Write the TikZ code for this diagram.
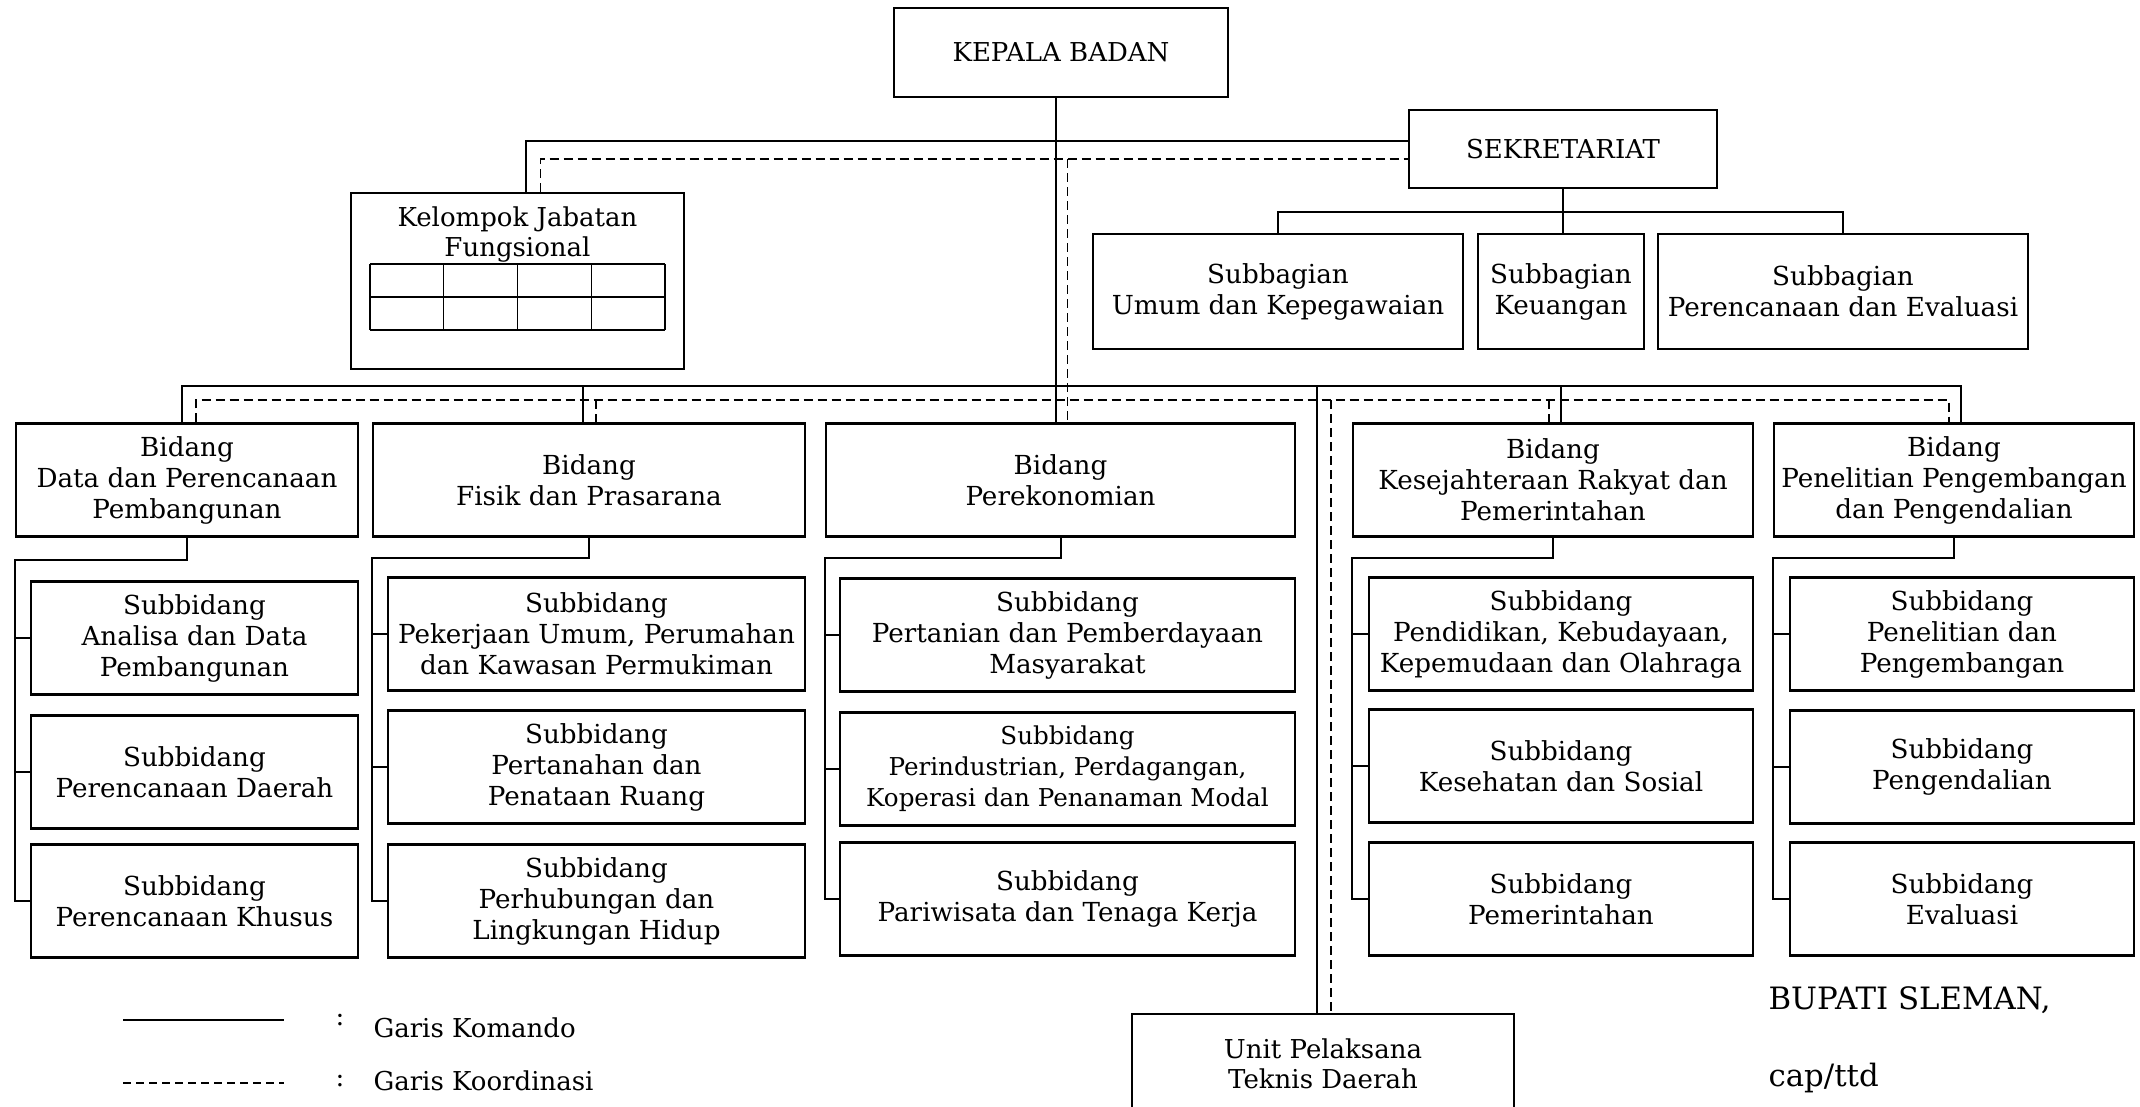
\documentclass[tikz,border=0pt]{standalone}
\usepackage{fontspec}
\setmainfont{DejaVu Serif}
\usetikzlibrary{positioning}

\begin{document}
\begin{tikzpicture}[
	x=1pt, y=-1pt,
	komando/.style={line width=2pt},
	koordinasi/.style={line width=1.6pt, dash pattern=on 9pt off 5pt},
	kotak/.style={draw, line width=2.4pt, align=center, inner sep=0pt},
	pimpinan/.style={kotak, font=\fontsize{26}{30}\selectfont},
	bidang/.style={kotak, minimum height=113pt, font=\fontsize{26.2}{31}\selectfont},
	ket/.style={anchor=west, font=\fontsize{26}{30}\selectfont},
	ttd/.style={anchor=west, font=\fontsize{30.8}{36}\selectfont}
	]
	
	\useasboundingbox (0,0) rectangle (2140,1106);
	\clip (0,0) rectangle (2140,1106);
	
	% ==================================================
	% Pimpinan, sekretariat, jabatan fungsional
	% ==================================================
	\node[pimpinan, minimum width=334pt, minimum height=89pt] (kepala) at (1061,52.5) {KEPALA BADAN};
	\node[pimpinan, minimum width=308pt, minimum height=78pt] (sekr) at (1563,149) {SEKRETARIAT};
	
	\node[kotak, minimum width=333pt, minimum height=176pt] (kjf) at (517.5,281) {};
	\node[pimpinan, draw=none] (kjfteks) at (517.5,235) {Kelompok Jabatan\\Fungsional};
	
	% tabel kosong dalam kotak fungsional
	\foreach \gy in {264,297,330} \draw[line width=1.2pt] (370,\gy) -- (665,\gy);
	\foreach \gx in {370,443.75,517.5,591.25,665} \draw[line width=1.2pt] (\gx,264) -- (\gx,330);
	
	\node[bidang, minimum width=370pt, minimum height=115pt] (sb1) at (1278,291.5) {Subbagian\\Umum dan Kepegawaian};
	\node[bidang, minimum width=166pt, minimum height=115pt] (sb2) at (1561,291.5) {Subbagian\\Keuangan};
	\node[bidang, minimum width=370pt, minimum height=115pt] (sb3) at (1843,291.5) {Subbagian\\Perencanaan dan Evaluasi};
	
	% ==================================================
	% Bidang
	% ==================================================
	\node[bidang, minimum width=342pt] (b1) at (187,480) {Bidang\\Data dan Perencanaan\\Pembangunan};
	\node[bidang, minimum width=432pt] (b2) at (589,480) {Bidang\\Fisik dan Prasarana};
	\node[bidang, minimum width=469pt] (b3) at (1060.5,480) {Bidang\\Perekonomian};
	\node[bidang, minimum width=400pt] (b4) at (1553,480) {Bidang\\Kesejahteraan Rakyat dan\\Pemerintahan};
	\node[bidang, minimum width=360pt] (b5) at (1954,480) {Bidang\\Penelitian Pengembangan\\dan Pengendalian};
	
	% ==================================================
	% Subbidang
	% ==================================================
	\node[bidang, minimum width=327pt] (s11) at (194.5,638) {Subbidang\\Analisa dan Data\\Pembangunan};
	\node[bidang, minimum width=327pt] (s12) at (194.5,772) {Subbidang\\Perencanaan Daerah};
	\node[bidang, minimum width=327pt] (s13) at (194.5,901) {Subbidang\\Perencanaan Khusus};
	
	\node[bidang, minimum width=417pt] (s21) at (596.5,634) {Subbidang\\Pekerjaan Umum, Perumahan\\dan Kawasan Permukiman};
	\node[bidang, minimum width=417pt] (s22) at (596.5,767) {Subbidang\\Pertanahan dan\\Penataan Ruang};
	\node[bidang, minimum width=417pt] (s23) at (596.5,901) {Subbidang\\Perhubungan dan\\Lingkungan Hidup};
	
	\node[bidang, minimum width=455pt] (s31) at (1067.5,635) {Subbidang\\Pertanian dan Pemberdayaan\\Masyarakat};
	\node[bidang, minimum width=455pt, font=\fontsize{24.6}{31}\selectfont] (s32) at (1067.5,769) {Subbidang\\Perindustrian, Perdagangan,\\Koperasi dan Penanaman Modal};
	\node[bidang, minimum width=455pt] (s33) at (1067.5,899) {Subbidang\\Pariwisata dan Tenaga Kerja};
	
	\node[bidang, minimum width=384pt] (s41) at (1561,634) {Subbidang\\Pendidikan, Kebudayaan,\\Kepemudaan dan Olahraga};
	\node[bidang, minimum width=384pt] (s42) at (1561,766) {Subbidang\\Kesehatan dan Sosial};
	\node[bidang, minimum width=384pt] (s43) at (1561,899) {Subbidang\\Pemerintahan};
	
	\node[bidang, minimum width=344pt] (s51) at (1962,634) {Subbidang\\Penelitian dan\\Pengembangan};
	\node[bidang, minimum width=344pt] (s52) at (1962,767) {Subbidang\\Pengendalian};
	\node[bidang, minimum width=344pt] (s53) at (1962,899) {Subbidang\\Evaluasi};
	
	\node[pimpinan, minimum width=382pt, minimum height=99pt] (uptd) at (1323,1063.5) {Unit Pelaksana\\Teknis Daerah};
	
	% ==================================================
	% Garis komando
	% ==================================================
	\coordinate (cbus) at (0,386);
	\coordinate (dbus) at (0,400);
	
	\coordinate (kep-c) at ([xshift=-5pt]kepala.south);
	\coordinate (kjf-c) at ([xshift=8pt]kjf.north);
	\coordinate (b1-c) at ([xshift=-5pt]b1.north);
	\coordinate (b2-c) at ([xshift=-6pt]b2.north);
	\coordinate (b4-c) at ([xshift=8pt]b4.north);
	\coordinate (b5-c) at ([xshift=7pt]b5.north);
	\coordinate (up-c) at ([xshift=-6pt]uptd.north);
	
	\draw[komando] (kep-c) -- (kep-c |- b3.north);
	\draw[komando] (kjf-c) |- ([yshift=8pt]sekr.west);
	
	\draw[komando] (sekr.south) -- (sekr.south |- sb2.north);
	\draw[komando] (sb1.north) -- ++(0,-21) -| (sb3.north);
	
	\draw[komando] (b1-c) -- (b1-c |- cbus) -- (b5-c |- cbus) -- (b5-c);
	\draw[komando] (b2-c |- cbus) -- (b2-c);
	\draw[komando] (b4-c |- cbus) -- (b4-c);
	\draw[komando] (up-c |- cbus) -- (up-c);
	
	% bidang ke subbidang
	\draw[komando] (b1.south) -- ++(0,22) -| (b1.west |- s13.west) -- (s13.west);
	\draw[komando] (b1.west |- s11.west) -- (s11.west);
	\draw[komando] (b1.west |- s12.west) -- (s12.west);
	
	\draw[komando] (b2.south) -- ++(0,20) -| (b2.west |- s23.west) -- (s23.west);
	\draw[komando] (b2.west |- s21.west) -- (s21.west);
	\draw[komando] (b2.west |- s22.west) -- (s22.west);
	
	\draw[komando] (b3.south) -- ++(0,20) -| (b3.west |- s33.west) -- (s33.west);
	\draw[komando] (b3.west |- s31.west) -- (s31.west);
	\draw[komando] (b3.west |- s32.west) -- (s32.west);
	
	\draw[komando] (b4.south) -- ++(0,20) -| (b4.west |- s43.west) -- (s43.west);
	\draw[komando] (b4.west |- s41.west) -- (s41.west);
	\draw[komando] (b4.west |- s42.west) -- (s42.west);
	
	\draw[komando] (b5.south) -- ++(0,20) -| (b5.west |- s53.west) -- (s53.west);
	\draw[komando] (b5.west |- s51.west) -- (s51.west);
	\draw[komando] (b5.west |- s52.west) -- (s52.west);
	
	% ==================================================
	% Garis koordinasi
	% ==================================================
	\coordinate (sekr-d) at ([yshift=-10pt]sekr.west);
	\coordinate (kjf-d) at ([xshift=23pt]kjf.north);
	\coordinate (b1-d) at ([xshift=9pt]b1.north);
	\coordinate (b2-d) at ([xshift=7pt]b2.north);
	\coordinate (b3-d) at ([xshift=7pt]b3.north);
	\coordinate (b4-d) at ([xshift=-4pt]b4.north);
	\coordinate (b5-d) at ([xshift=-5pt]b5.north);
	\coordinate (up-d) at ([xshift=8pt]uptd.north);
	
	\draw[koordinasi] (kjf-d) |- (sekr-d);
	\draw[koordinasi] (b3-d |- sekr-d) -- (b3-d);
	\draw[koordinasi] (b1-d) -- (b1-d |- dbus) -- (b5-d |- dbus) -- (b5-d);
	\draw[koordinasi] (b2-d |- dbus) -- (b2-d);
	\draw[koordinasi] (b4-d |- dbus) -- (b4-d);
	\draw[koordinasi] (up-d |- dbus) -- (up-d);
	
	% ==================================================
	% Keterangan dan pengesahan
	% ==================================================
	\draw[komando] (123,1020) -- (284,1020);
	\draw[koordinasi, dash pattern=on 8pt off 5pt] (123,1083) -- (284,1083);
	\node[ket] (t1) at (332,1020) {:};
	\node[ket] (k1) at (370,1028) {Garis Komando};
	\node[ket] (t2) at (332,1081) {:};
	\node[ket] (k2) at (370,1081) {Garis Koordinasi};
	
	\node[ttd] (bupati) at (1765,1000) {BUPATI SLEMAN,};
	\node[ttd] (cap) at (1765,1078) {cap/ttd};
	
\end{tikzpicture}
\end{document}
